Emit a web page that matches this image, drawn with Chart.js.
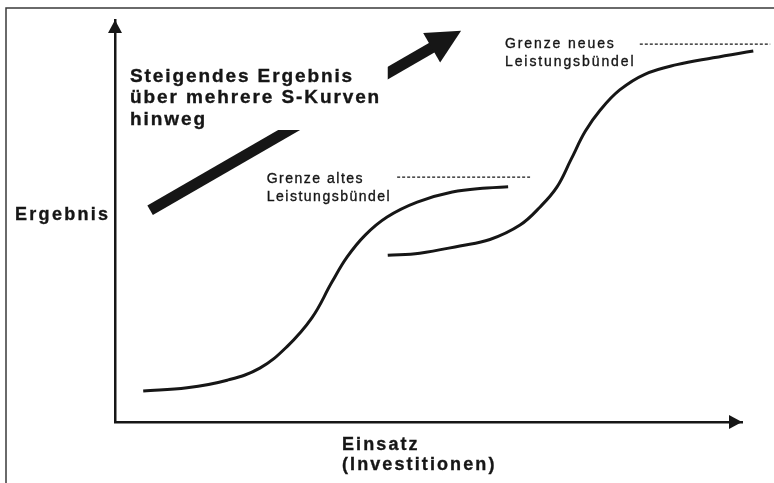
<!DOCTYPE html>
<html lang="de">
<head>
  <meta charset="UTF-8">
  <title>S-Kurven</title>
  <script src="https://cdn.jsdelivr.net/npm/chart.js"></script>
  <style>
    body {
      margin: 0;
      background-color: #fff;
    }
    canvas {
      display: block;
    }
  </style>
</head>
<body>
  <canvas id="sCurveChart" width="774" height="483"></canvas>

  <script>
    // Daten (Achsen 0..100, ohne Einheiten)
    const oldCurveX = [4.5, 11.5, 17.9, 23.1, 27.4, 31.4, 34.6, 37.0, 39.9, 43.4, 48.2, 53.8, 59.3, 62.7];
    const oldCurveY = [7.7, 8.5, 10.4, 13.4, 18.7, 25.9, 34.8, 41.0, 46.5, 51.0, 54.7, 57.2, 58.2, 58.5];
    const newCurveX = [43.5, 48.6, 55.0, 59.8, 64.6, 67.8, 70.5, 72.7, 75.0, 77.4, 80.5, 84.5, 89.6, 95.4, 101.8];
    const newCurveY = [41.5, 42.0, 43.8, 45.4, 49.0, 53.5, 58.5, 65.2, 72.3, 77.6, 82.6, 86.5, 88.9, 90.6, 92.3];
    const oldLimitX = [45.0, 66.2];
    const oldLimitY = [60.9, 60.9];
    const newLimitX = [83.7, 104.5];
    const newLimitY = [94.0, 94.0];
    const trendArrowX = [5.6, 55.2];
    const trendArrowY = [52.7, 97.3];

    const titleLines = ["Steigendes Ergebnis", "über mehrere S-Kurven", "hinweg"];
    const oldLimitLabel = ["Grenze altes", "Leistungsbündel"];
    const newLimitLabel = ["Grenze neues", "Leistungsbündel"];
    const yTitle = "Ergebnis";
    const xTitle = ["Einsatz", "(Investitionen)"];

    const toPoints = (xs, ys) => xs.map((x, i) => ({ x: x, y: ys[i] }));
    const ink = "#161616";
    const fontName = "'Liberation Sans', Arial, sans-serif";

    // Text mit Sperrung zeichnen (leicht nachgezogen wie im Scan)
    const spacedText = (ctx, text, x, y, spacing) => {
      for (const ch of text) {
        ctx.fillText(ch, x, y);
        ctx.strokeText(ch, x, y);
        x += ctx.measureText(ch).width + spacing;
      }
    };

    const decorPlugin = {
      id: "decor",
      beforeDraw(chart) {
        const ctx = chart.ctx;
        ctx.save();
        ctx.strokeStyle = "#3a3a3a";
        ctx.lineWidth = 1.5;
        ctx.beginPath();
        ctx.moveTo(6, chart.height);
        ctx.lineTo(6, 8);
        ctx.lineTo(chart.width, 8);
        ctx.stroke();
        ctx.restore();
      },
      afterDraw(chart) {
        const { ctx, chartArea: area, scales: { x, y } } = chart;
        ctx.save();
        ctx.fillStyle = ink;

        // Pfeilspitzen der Achsen
        ctx.beginPath();
        ctx.moveTo(area.left, area.top);
        ctx.lineTo(area.left - 7, area.top + 13);
        ctx.lineTo(area.left + 7, area.top + 13);
        ctx.closePath();
        ctx.fill();
        ctx.beginPath();
        ctx.moveTo(area.right, area.bottom);
        ctx.lineTo(area.right - 13, area.bottom - 7);
        ctx.lineTo(area.right - 13, area.bottom + 7);
        ctx.closePath();
        ctx.fill();

        // dicker Trendpfeil
        const x0 = x.getPixelForValue(trendArrowX[0]);
        const y0 = y.getPixelForValue(trendArrowY[0]);
        const x1 = x.getPixelForValue(trendArrowX[1]);
        const y1 = y.getPixelForValue(trendArrowY[1]);
        const len = Math.hypot(x1 - x0, y1 - y0);
        const ux = (x1 - x0) / len, uy = (y1 - y0) / len;
        const headLen = 34, headHalf = 17;
        const bx = x1 - ux * headLen, by = y1 - uy * headLen;
        ctx.strokeStyle = ink;
        ctx.lineWidth = 11;
        ctx.lineCap = "butt";
        ctx.beginPath();
        ctx.moveTo(x0, y0);
        ctx.lineTo(bx + ux * 2, by + uy * 2);
        ctx.stroke();
        ctx.beginPath();
        ctx.moveTo(x1, y1);
        ctx.lineTo(bx - uy * headHalf, by + ux * headHalf);
        ctx.lineTo(bx + uy * headHalf, by - ux * headHalf);
        ctx.closePath();
        ctx.fill();

        // Freiraum für den Titeltext
        ctx.fillStyle = "#fff";
        ctx.fillRect(area.left + 6, 40, x.getPixelForValue(43.5) - area.left - 6, 130 - 40);

        // Texte
        ctx.fillStyle = ink;
        ctx.strokeStyle = ink;
        ctx.lineWidth = 0.35;
        ctx.textBaseline = "alphabetic";
        ctx.textAlign = "left";

        ctx.font = "bold 19px " + fontName;
        titleLines.forEach((line, i) => {
          spacedText(ctx, line, x.getPixelForValue(2.4), y.getPixelForValue(84.6) + i * 21.5, 1.9);
        });

        ctx.font = "14px " + fontName;
        oldLimitLabel.forEach((line, i) => {
          spacedText(ctx, line, x.getPixelForValue(24.2), y.getPixelForValue(59.5) + i * 18, 1.5);
        });
        newLimitLabel.forEach((line, i) => {
          spacedText(ctx, line, x.getPixelForValue(62.2), y.getPixelForValue(93.0) + i * 18, 1.9);
        });

        ctx.font = "bold 18px " + fontName;
        spacedText(ctx, yTitle, area.left - 100, y.getPixelForValue(50.2), 2.3);
        xTitle.forEach((line, i) => {
          spacedText(ctx, line, x.getPixelForValue(36.2), area.bottom + 28 + i * 20, 2.1);
        });

        ctx.restore();
      }
    };

    const curveStyle = {
      borderColor: ink,
      borderWidth: 3,
      pointRadius: 0,
      fill: false,
      tension: 0.4,
      clip: false,
    };
    const dashStyle = {
      borderColor: ink,
      borderWidth: 1.2,
      borderDash: [3, 2],
      pointRadius: 0,
      fill: false,
      clip: false,
    };

    const ctx = document.getElementById("sCurveChart").getContext("2d");
    const chart = new Chart(ctx, {
      type: "line",
      data: {
        datasets: [
          { label: "altes Leistungsbündel", data: toPoints(oldCurveX, oldCurveY), ...curveStyle },
          { label: "neues Leistungsbündel", data: toPoints(newCurveX, newCurveY), ...curveStyle },
          { label: "Grenze alt", data: toPoints(oldLimitX, oldLimitY), ...dashStyle },
          { label: "Grenze neu", data: toPoints(newLimitX, newLimitY), ...dashStyle },
        ],
      },
      options: {
        responsive: false,
        devicePixelRatio: 1,
        animation: false,
        layout: {
          padding: { left: 107, right: 32, top: 20, bottom: 53 },
        },
        plugins: {
          legend: { display: false },
          tooltip: { enabled: false },
        },
        scales: {
          x: {
            type: "linear",
            min: 0,
            max: 100,
            ticks: { display: false },
            grid: { display: false },
            border: { display: true, color: ink, width: 2.5 },
          },
          y: {
            type: "linear",
            min: 0,
            max: 100,
            ticks: { display: false },
            grid: { display: false },
            border: { display: true, color: ink, width: 2.5 },
          },
        },
      },
      plugins: [decorPlugin],
    });
  </script>
</body>
</html>
